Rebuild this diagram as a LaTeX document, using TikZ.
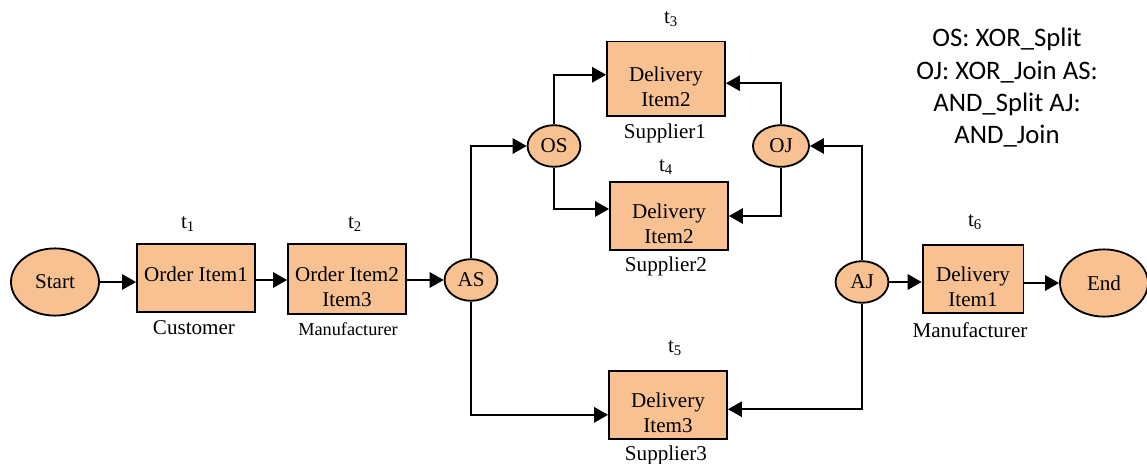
\documentclass[tikz,border=0pt]{standalone}
\usepackage{fontspec}
\setmainfont{Liberation Serif}
\newfontfamily\legendfont{Carlito}
\usepackage{tikz}
\usetikzlibrary{arrows.meta, shapes.geometric}
\definecolor{peach}{RGB}{248,193,146}

\begin{document}
\begin{tikzpicture}[x=0.025cm, y=-0.025cm,
    taskbox/.style={draw, line width=1.3pt, fill=peach, minimum width=2.95cm,
        minimum height=1.72cm, align=center, font=\fontsize{15}{18}\selectfont},
    twoline/.style={execute at begin node={\rule{0pt}{39.6pt}}},
    oneline/.style={execute at begin node={\rule[-5.7pt]{0pt}{5.7pt}}},
    gate/.style={draw, line width=1.3pt, fill=peach, ellipse, minimum width=1.32cm,
        minimum height=1.04cm, inner sep=0pt, font=\fontsize{15}{18}\selectfont},
    terminal/.style={gate, minimum width=2.2cm, minimum height=1.68cm},
    flow/.style={line width=1.3pt, -{Triangle[length=10pt, width=11pt]}},
    tag/.style={font=\fontsize{15}{18}\selectfont}]
        \useasboundingbox (0,0) rectangle (1147,464);

        % Start and end events
        \node[terminal] (start) at (55,282) {Start};
        \node[terminal] (end) at (1104,283) {End};

        % Tasks
        \node[taskbox, oneline] (o1) at (196,278) {Order Item1};
        \node[taskbox, twoline, minimum height=1.75cm] (o2) at (347,279) {Order Item2\\Item3};
        \node[taskbox, twoline, minimum height=1.87cm] (t3) at (666,79) {Delivery\\Item2};
        \node[taskbox, twoline] (t4) at (669,216) {Delivery\\Item2};
        \node[taskbox, twoline] (t5) at (668,405) {Delivery\\Item3};
        \node[taskbox, twoline, minimum width=2.52cm] (t6) at (973,279) {Delivery\\Item1};

        % Split and join gates
        \node[gate] (as) at (471,280) {AS};
        \node[gate] (os) at (554,146) {OS};
        \node[gate, minimum width=1.4cm] (oj) at (781,146) {OJ};
        \node[gate] (aj) at (862,282) {AJ};

        % Task names
        \node[tag] (n1) at (188,224) {t\textsubscript{1}};
        \node[tag] (n2) at (355,224) {t\textsubscript{2}};
        \node[tag] (n3) at (671,19) {t\textsubscript{3}};
        \node[tag] (n4) at (666,167) {t\textsubscript{4}};
        \node[tag] (n5) at (675,348) {t\textsubscript{5}};
        \node[tag] (n6) at (975,222) {t\textsubscript{6}};

        % Roles
        \node[tag] (r1) at (194,328) {Customer};
        \node[tag, font=\fontsize{13}{16}\selectfont] (r2) at (348,329) {Manufacturer};
        \node[tag] (r3) at (665,133) {Supplier1};
        \node[tag] (r4) at (666,266) {Supplier2};
        \node[tag] (r5) at (666,455) {Supplier3};
        \node[tag] (r6) at (970,330) {Manufacturer};

        % Main flow
        \draw[flow] (start.east) -- (start.east -| o1.west);
        \draw[flow] (o1.east |- as) -- (o2.west |- as);
        \draw[flow] (o2.east |- as) -- (as.west);
        \draw[flow] (aj.east) -- (aj.east -| t6.west);
        \draw[flow] (t6.east |- end) -- (end.west);

        % Branches
        \draw[flow] (as.north) |- (os.west);
        \draw[flow] (as.south) |- ([yshift=-7]t5.west);
        \draw[flow] (os.north) |- ([yshift=3]t3.west);
        \draw[flow] (os.south) |- ([yshift=5]t4.west);
        \draw[flow] (oj.north) |- ([yshift=-3]t3.east);
        \draw[flow] (oj.south) |- (t4.east);
        \draw[flow] (aj.north) |- (oj.east);
        \draw[flow] (aj.south) |- ([yshift=-3]t5.east);

        % Legend
        \node[font=\legendfont\fontsize{19}{23}\selectfont, align=center] (legend) at (1007,88)
            {OS: XOR\_Split\\OJ: XOR\_Join AS:\\AND\_Split AJ:\\AND\_Join};
    \end{tikzpicture}
\end{document}
